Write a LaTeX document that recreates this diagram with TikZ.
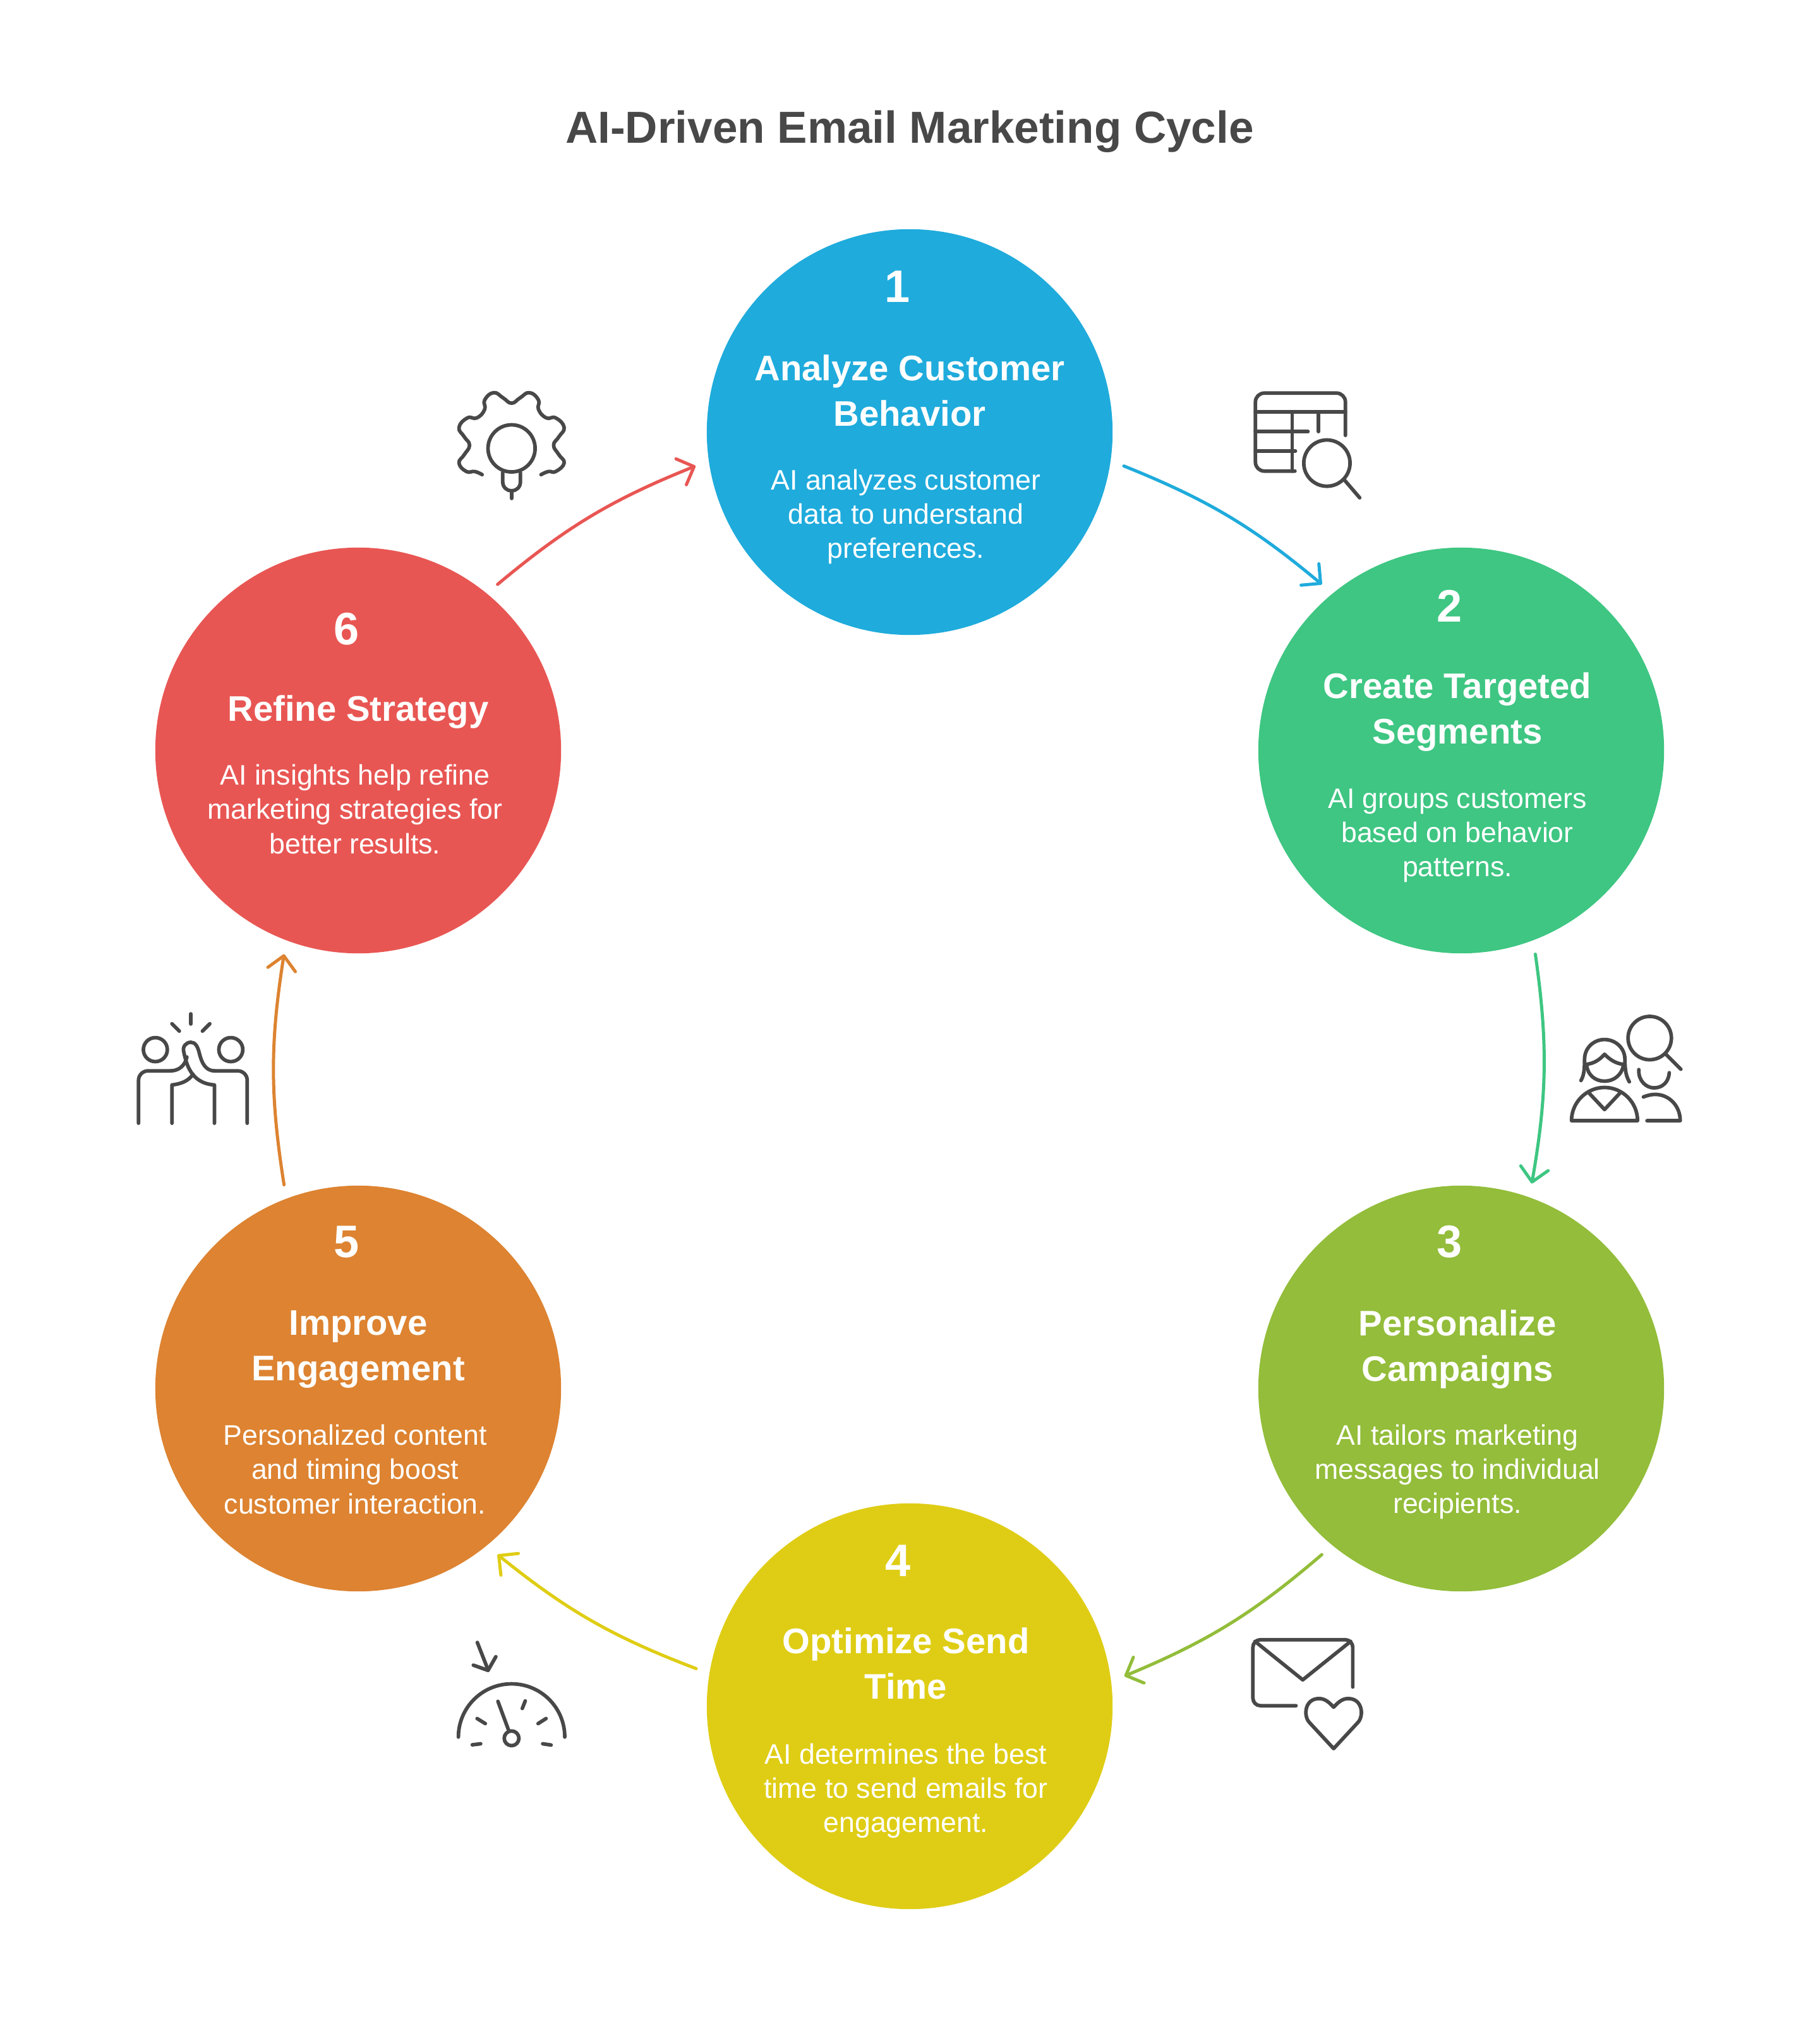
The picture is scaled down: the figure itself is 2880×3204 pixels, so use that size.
\documentclass[tikz,border=0pt]{standalone}
\usepackage{fontspec}
\setmainfont{Liberation Sans}
\usetikzlibrary{arrows.meta}
\definecolor{stepblue}{HTML}{1FABDC}
\definecolor{stepgreen}{HTML}{3EC682}
\definecolor{stepolive}{HTML}{93BD3A}
\definecolor{stepyellow}{HTML}{DFCD15}
\definecolor{steporange}{HTML}{DD8331}
\definecolor{stepred}{HTML}{E85653}
\definecolor{inkgray}{HTML}{484848}
\tikzset{
  stepdot/.style={circle, fill=#1, minimum size=6.42cm, inner sep=0pt, outer sep=.22cm},
  stepnum/.style={text=white, font=\fontsize{20.5}{24}\selectfont\bfseries},
  steptitle/.style={text=white, align=center, font=\fontsize{16}{20.5}\selectfont\bfseries},
  steptext/.style={text=white, align=center, font=\fontsize{12.7}{15.4}\selectfont},
  cyclearrow/.style={draw=#1, line width=.05cm, line cap=round, bend left=9, -{Straight Barb[length=2.2mm,width=4.4mm,round]}},
  iconline/.style={draw=inkgray, line width=.057cm, line cap=round, line join=round},
  iconarea/.style={shift={#1}, x=.00333cm, y=-.00333cm}
}
\begin{document}
\begin{tikzpicture}[x=.01cm, y=-.01cm]
\useasboundingbox (0,0) rectangle (2880,3204);
\node[text=inkgray, font=\fontsize{20.2}{24}\selectfont\bfseries] (heading) at (1440,208) {AI-Driven Email Marketing Cycle};

\node[stepdot=stepblue] (dot1) at (1440,684) {};
\node[stepdot=stepgreen] (dot2) at (2313,1188) {};
\node[stepdot=stepolive] (dot3) at (2313,2198) {};
\node[stepdot=stepyellow] (dot4) at (1440,2701) {};
\node[stepdot=steporange] (dot5) at (567,2198) {};
\node[stepdot=stepred] (dot6) at (567,1188) {};

\node[stepnum] (num1) at (1421,454) {1};
\node[steptitle] (title1) at (1440,618) {Analyze Customer\\Behavior};
\node[steptext] (text1) at (1434,818) {AI analyzes customer\\data to understand\\preferences.};
\node[stepnum] (num2) at (2295,959) {2};
\node[steptitle] (title2) at (2307,1127) {Create Targeted\\Segments};
\node[steptext] (text2) at (2307,1323) {AI groups customers\\based on behavior\\patterns.};
\node[stepnum] (num3) at (2295,1966) {3};
\node[steptitle] (title3) at (2307,2136) {Personalize\\Campaigns};
\node[steptext] (text3) at (2307,2330) {AI tailors marketing\\messages to individual\\recipients.};
\node[stepnum] (num4) at (1422,2471) {4};
\node[steptitle] (title4) at (1434,2633) {Optimize Send\\Time};
\node[steptext] (text4) at (1434,2835) {AI determines the best\\time to send emails for\\engagement.};
\node[stepnum] (num5) at (549,1966) {5};
\node[steptitle] (title5) at (567,2136) {Improve\\Engagement};
\node[steptext] (text5) at (562,2326) {Personalized content\\and timing boost\\customer interaction.};
\node[stepnum] (num6) at (549,996) {6};
\node[steptitle] (title6) at (567,1127) {Refine Strategy};
\node[steptext] (text6) at (562,1281) {AI insights help refine\\marketing strategies for\\better results.};

\draw[cyclearrow=stepblue] (dot1.-9.2) to (dot2.130);
\draw[cyclearrow=stepgreen] (dot2.-70) to (dot3.71.2);
\draw[cyclearrow=stepolive] (dot3.230.5) to (dot4.8.8);
\draw[cyclearrow=stepyellow] (dot4.170.3) to (dot5.-50.2);
\draw[cyclearrow=steporange] (dot5.110.5) to (dot6.-110.3);
\draw[cyclearrow=stepred] (dot6.50.4) to (dot1.189.2);

% gear with bulb
\begin{scope}[iconarea={(680,580)}]
\draw[iconline] (390,390) circle[radius=112];
\draw[iconline] (348,505) -- (348,550) .. controls (348,575) and (368,592) .. (390,592) .. controls (412,592) and (432,575) .. (432,550) -- (432,505);
\draw[iconline] (390,592) -- (390,628);
\draw[iconline] plot[smooth, tension=.8] coordinates {(250,515) (215,500) (175,500) (140,460) (165,420) (190,375) (165,335) (140,290) (180,245) (225,245) (262,205) (262,160) (305,125) (350,150) (390,175) (430,150) (475,125) (518,160) (518,205) (555,245) (600,245) (640,290) (615,335) (590,375) (615,420) (640,460) (600,500) (565,500) (530,515)};
\end{scope}
% table with lens
\begin{scope}[iconarea={(1950,590)}]
\draw[iconline, rounded corners=.14cm] (300,468) -- (112,468) -- (112,97) -- (540,97) -- (540,298);
\draw[iconline] (112,187) -- (540,187);
\draw[iconline] (112,280) -- (362,280);
\draw[iconline] (112,373) -- (302,373);
\draw[iconline] (287,187) -- (287,468);
\draw[iconline] (412,187) -- (412,280);
\draw[iconline] (452,430) circle[radius=110];
\draw[iconline] (535,510) -- (608,595);
\end{scope}
% two people with lens
\begin{scope}[iconarea={(2460,1590)}]
\draw[iconline] (455,160) circle[radius=103];
\draw[iconline] (530,235) -- (603,308);
\draw[iconline] (128,362) .. controls (140,340) and (145,320) .. (145,262) .. controls (145,205) and (190,167) .. (240,167) .. controls (290,167) and (337,205) .. (337,262) .. controls (337,320) and (345,345) .. (358,368);
\draw[iconline] (150,285) .. controls (190,283) and (220,260) .. (240,237) .. controls (262,260) and (295,283) .. (332,285);
\draw[iconline] (155,290) .. controls (160,335) and (195,365) .. (240,365) .. controls (285,365) and (322,335) .. (330,290);
\draw[iconline] (83,553) .. controls (83,465) and (155,395) .. (240,395) .. controls (325,395) and (397,465) .. (397,553) -- cycle;
\draw[iconline] (165,420) -- (240,500) -- (315,420);
\draw[iconline] (403,310) .. controls (400,365) and (440,397) .. (475,397) .. controls (515,397) and (545,370) .. (548,325);
\draw[iconline] (425,440) .. controls (445,432) and (465,428) .. (480,428) .. controls (550,428) and (600,485) .. (600,553) -- (442,553);
\end{scope}
% envelope with heart
\begin{scope}[iconarea={(1950,2570)}]
\draw[iconline, rounded corners=.12cm] (305,391) -- (100,391) -- (100,77) -- (575,77) -- (575,302);
\draw[iconline] (110,85) -- (337,268) -- (565,85);
\draw[iconline] (484,595) -- (368,470) .. controls (340,440) and (345,357) .. (415,357) .. controls (445,357) and (465,378) .. (484,398) .. controls (503,378) and (523,357) .. (553,357) .. controls (623,357) and (628,440) .. (600,470) -- cycle;
\end{scope}
% gauge
\begin{scope}[iconarea={(690,2580)}]
\draw[iconline] (107,510) arc (180:360:253);
\draw[iconline] (360,516) circle[radius=35];
\draw[iconline] (295,340) -- (346,478);
\draw[iconline] (173,547) -- (213,542);
\draw[iconline] (196,422) -- (235,446);
\draw[iconline] (425,338) -- (411,374);
\draw[iconline] (524,422) -- (486,446);
\draw[iconline] (508,542) -- (548,548);
\draw[iconline] (197,60) -- (248,190);
\draw[iconline] (178,168) -- (248,193) -- (285,128);
\end{scope}
% high five
\begin{scope}[iconarea={(190,1590)}]
\draw[iconline] (168,215) circle[radius=57];
\draw[iconline] (527,215) circle[radius=57];
\draw[iconline] (337,45) -- (337,93);
\draw[iconline] (247,92) -- (282,127);
\draw[iconline] (427,92) -- (392,127);
\draw[iconline, rounded corners=.15cm] (88,565) -- (88,316) -- (240,316);
\draw[iconline] (240,316) .. controls (280,316) and (310,290) .. (318,250);
\draw[iconline, rounded corners=.15cm] (605,565) -- (605,316) -- (450,316);
\draw[iconline] (450,316) .. controls (405,316) and (388,275) .. (378,235) .. controls (370,200) and (358,180) .. (337,180) .. controls (315,180) and (296,200) .. (303,225) .. controls (315,280) and (335,375) .. (449,383) -- (449,565);
\draw[iconline] (247,565) -- (247,383) .. controls (290,378) and (325,365) .. (347,332);
\end{scope}
\end{tikzpicture}
\end{document}
